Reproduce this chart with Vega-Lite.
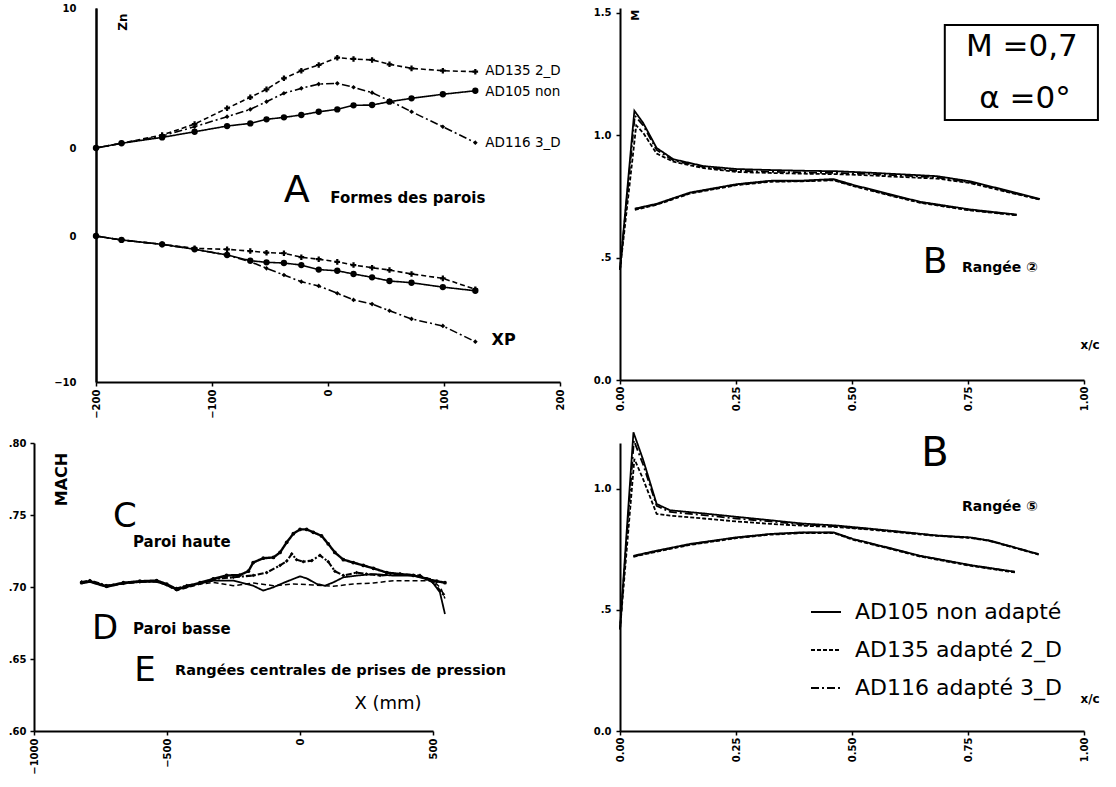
{
  "$schema": "https://vega.github.io/schema/vega-lite/v6.json",
  "background": "white",
  "padding": {"left": 8, "top": 3, "right": 0, "bottom": 0},
  "datasets": {
    "tl": [
      {"wall":"haute","profil":"AD105","x":-200,"z":0},{"wall":"haute","profil":"AD105","x":-178,"z":0.34},{"wall":"haute","profil":"AD105","x":-143,"z":0.76},{"wall":"haute","profil":"AD105","x":-115,"z":1.16},{"wall":"haute","profil":"AD105","x":-87,"z":1.57},{"wall":"haute","profil":"AD105","x":-67,"z":1.76},{"wall":"haute","profil":"AD105","x":-53,"z":2.05},{"wall":"haute","profil":"AD105","x":-38,"z":2.19},{"wall":"haute","profil":"AD105","x":-23,"z":2.36},{"wall":"haute","profil":"AD105","x":-8,"z":2.59},{"wall":"haute","profil":"AD105","x":8,"z":2.76},{"wall":"haute","profil":"AD105","x":22,"z":3.05},{"wall":"haute","profil":"AD105","x":38,"z":3.07},{"wall":"haute","profil":"AD105","x":53,"z":3.31},{"wall":"haute","profil":"AD105","x":72,"z":3.55},{"wall":"haute","profil":"AD105","x":99,"z":3.84},{"wall":"haute","profil":"AD105","x":127,"z":4.09},
      {"wall":"haute","profil":"AD135","x":-200,"z":0},{"wall":"haute","profil":"AD135","x":-178,"z":0.34},{"wall":"haute","profil":"AD135","x":-143,"z":0.93},{"wall":"haute","profil":"AD135","x":-115,"z":1.71},{"wall":"haute","profil":"AD135","x":-87,"z":2.84},{"wall":"haute","profil":"AD135","x":-67,"z":3.62},{"wall":"haute","profil":"AD135","x":-53,"z":4.19},{"wall":"haute","profil":"AD135","x":-38,"z":4.98},{"wall":"haute","profil":"AD135","x":-23,"z":5.52},{"wall":"haute","profil":"AD135","x":-8,"z":5.93},{"wall":"haute","profil":"AD135","x":8,"z":6.45},{"wall":"haute","profil":"AD135","x":22,"z":6.36},{"wall":"haute","profil":"AD135","x":38,"z":6.29},{"wall":"haute","profil":"AD135","x":53,"z":5.98},{"wall":"haute","profil":"AD135","x":72,"z":5.69},{"wall":"haute","profil":"AD135","x":99,"z":5.52},{"wall":"haute","profil":"AD135","x":127,"z":5.45},
      {"wall":"haute","profil":"AD116","x":-200,"z":0},{"wall":"haute","profil":"AD116","x":-178,"z":0.34},{"wall":"haute","profil":"AD116","x":-143,"z":0.86},{"wall":"haute","profil":"AD116","x":-115,"z":1.52},{"wall":"haute","profil":"AD116","x":-87,"z":2.24},{"wall":"haute","profil":"AD116","x":-67,"z":2.76},{"wall":"haute","profil":"AD116","x":-53,"z":3.31},{"wall":"haute","profil":"AD116","x":-38,"z":3.91},{"wall":"haute","profil":"AD116","x":-23,"z":4.26},{"wall":"haute","profil":"AD116","x":-8,"z":4.57},{"wall":"haute","profil":"AD116","x":8,"z":4.62},{"wall":"haute","profil":"AD116","x":22,"z":4.34},{"wall":"haute","profil":"AD116","x":38,"z":3.95},{"wall":"haute","profil":"AD116","x":53,"z":3.38},{"wall":"haute","profil":"AD116","x":72,"z":2.59},{"wall":"haute","profil":"AD116","x":99,"z":1.52},{"wall":"haute","profil":"AD116","x":127,"z":0.38},
      {"wall":"basse","profil":"AD105","x":-200,"z":0},{"wall":"basse","profil":"AD105","x":-178,"z":-0.27},{"wall":"basse","profil":"AD105","x":-143,"z":-0.57},{"wall":"basse","profil":"AD105","x":-115,"z":-0.91},{"wall":"basse","profil":"AD105","x":-87,"z":-1.3},{"wall":"basse","profil":"AD105","x":-67,"z":-1.69},{"wall":"basse","profil":"AD105","x":-53,"z":-1.8},{"wall":"basse","profil":"AD105","x":-38,"z":-1.85},{"wall":"basse","profil":"AD105","x":-23,"z":-1.99},{"wall":"basse","profil":"AD105","x":-8,"z":-2.3},{"wall":"basse","profil":"AD105","x":8,"z":-2.38},{"wall":"basse","profil":"AD105","x":22,"z":-2.6},{"wall":"basse","profil":"AD105","x":38,"z":-2.83},{"wall":"basse","profil":"AD105","x":53,"z":-3.08},{"wall":"basse","profil":"AD105","x":72,"z":-3.2},{"wall":"basse","profil":"AD105","x":99,"z":-3.5},{"wall":"basse","profil":"AD105","x":127,"z":-3.75},
      {"wall":"basse","profil":"AD135","x":-200,"z":0},{"wall":"basse","profil":"AD135","x":-178,"z":-0.27},{"wall":"basse","profil":"AD135","x":-143,"z":-0.57},{"wall":"basse","profil":"AD135","x":-115,"z":-0.84},{"wall":"basse","profil":"AD135","x":-87,"z":-0.91},{"wall":"basse","profil":"AD135","x":-67,"z":-1.03},{"wall":"basse","profil":"AD135","x":-53,"z":-1.14},{"wall":"basse","profil":"AD135","x":-38,"z":-1.18},{"wall":"basse","profil":"AD135","x":-23,"z":-1.45},{"wall":"basse","profil":"AD135","x":-8,"z":-1.59},{"wall":"basse","profil":"AD135","x":8,"z":-1.77},{"wall":"basse","profil":"AD135","x":22,"z":-1.99},{"wall":"basse","profil":"AD135","x":38,"z":-2.17},{"wall":"basse","profil":"AD135","x":53,"z":-2.33},{"wall":"basse","profil":"AD135","x":72,"z":-2.6},{"wall":"basse","profil":"AD135","x":99,"z":-2.9},{"wall":"basse","profil":"AD135","x":127,"z":-3.65},
      {"wall":"basse","profil":"AD116","x":-200,"z":0},{"wall":"basse","profil":"AD116","x":-178,"z":-0.27},{"wall":"basse","profil":"AD116","x":-143,"z":-0.57},{"wall":"basse","profil":"AD116","x":-115,"z":-0.91},{"wall":"basse","profil":"AD116","x":-87,"z":-1.3},{"wall":"basse","profil":"AD116","x":-67,"z":-1.76},{"wall":"basse","profil":"AD116","x":-53,"z":-2.21},{"wall":"basse","profil":"AD116","x":-38,"z":-2.67},{"wall":"basse","profil":"AD116","x":-23,"z":-3.13},{"wall":"basse","profil":"AD116","x":-8,"z":-3.42},{"wall":"basse","profil":"AD116","x":8,"z":-3.92},{"wall":"basse","profil":"AD116","x":22,"z":-4.38},{"wall":"basse","profil":"AD116","x":38,"z":-4.66},{"wall":"basse","profil":"AD116","x":53,"z":-5.12},{"wall":"basse","profil":"AD116","x":72,"z":-5.68},{"wall":"basse","profil":"AD116","x":99,"z":-6.16},{"wall":"basse","profil":"AD116","x":127,"z":-7.24}
    ],
    "mach": [
      {"c":"c1","x":-821,"m":0.703},{"c":"c1","x":-790,"m":0.704},{"c":"c1","x":-727,"m":0.7005},{"c":"c1","x":-664,"m":0.703},{"c":"c1","x":-602,"m":0.704},{"c":"c1","x":-539,"m":0.7045},{"c":"c1","x":-501,"m":0.702},{"c":"c1","x":-464,"m":0.6985},{"c":"c1","x":-426,"m":0.7005},{"c":"c1","x":-376,"m":0.703},
      {"c":"c1","x":-326,"m":0.7056},{"c":"c1","x":-276,"m":0.708},{"c":"c1","x":-226,"m":0.7083},{"c":"c1","x":-194,"m":0.711},{"c":"c1","x":-176,"m":0.717},{"c":"c1","x":-138,"m":0.72},{"c":"c1","x":-100,"m":0.7205},{"c":"c1","x":-75,"m":0.724},{"c":"c1","x":-50,"m":0.731},{"c":"c1","x":-25,"m":0.737},{"c":"c1","x":0,"m":0.74},{"c":"c1","x":25,"m":0.74},{"c":"c1","x":50,"m":0.738},{"c":"c1","x":81,"m":0.7355},{"c":"c1","x":106,"m":0.73},{"c":"c1","x":131,"m":0.724},{"c":"c1","x":163,"m":0.719},{"c":"c1","x":200,"m":0.717},{"c":"c1","x":238,"m":0.715},{"c":"c1","x":276,"m":0.713},{"c":"c1","x":326,"m":0.71},{"c":"c1","x":376,"m":0.709},{"c":"c1","x":426,"m":0.708},{"c":"c1","x":476,"m":0.7056},{"c":"c1","x":514,"m":0.704},{"c":"c1","x":545,"m":0.703},
      {"c":"c2","x":-821,"m":0.7035},{"c":"c2","x":-790,"m":0.7045},{"c":"c2","x":-727,"m":0.701},{"c":"c2","x":-664,"m":0.7025},{"c":"c2","x":-602,"m":0.7035},{"c":"c2","x":-539,"m":0.704},{"c":"c2","x":-501,"m":0.7015},{"c":"c2","x":-464,"m":0.699},{"c":"c2","x":-426,"m":0.701},{"c":"c2","x":-376,"m":0.7025},
      {"c":"c2","x":-326,"m":0.7056},{"c":"c2","x":-251,"m":0.7067},{"c":"c2","x":-176,"m":0.708},{"c":"c2","x":-125,"m":0.71},{"c":"c2","x":-75,"m":0.715},{"c":"c2","x":-50,"m":0.718},{"c":"c2","x":-31,"m":0.723},{"c":"c2","x":-13,"m":0.719},{"c":"c2","x":12,"m":0.7176},{"c":"c2","x":44,"m":0.7183},{"c":"c2","x":75,"m":0.722},{"c":"c2","x":106,"m":0.7176},{"c":"c2","x":131,"m":0.711},{"c":"c2","x":163,"m":0.708},{"c":"c2","x":213,"m":0.71},{"c":"c2","x":250,"m":0.709},{"c":"c2","x":301,"m":0.708},{"c":"c2","x":376,"m":0.709},{"c":"c2","x":451,"m":0.708},{"c":"c2","x":501,"m":0.703},{"c":"c2","x":539,"m":0.695},
      {"c":"c3","x":-821,"m":0.7025},{"c":"c3","x":-790,"m":0.7035},{"c":"c3","x":-727,"m":0.7},{"c":"c3","x":-664,"m":0.7025},{"c":"c3","x":-602,"m":0.7035},{"c":"c3","x":-539,"m":0.7035},{"c":"c3","x":-501,"m":0.7015},{"c":"c3","x":-464,"m":0.698},{"c":"c3","x":-426,"m":0.7},{"c":"c3","x":-376,"m":0.7025},
      {"c":"c3","x":-326,"m":0.7044},{"c":"c3","x":-251,"m":0.7044},{"c":"c3","x":-176,"m":0.7009},{"c":"c3","x":-138,"m":0.6975},{"c":"c3","x":-100,"m":0.6998},{"c":"c3","x":-63,"m":0.7028},{"c":"c3","x":-25,"m":0.7056},{"c":"c3","x":0,"m":0.7074},{"c":"c3","x":25,"m":0.706},{"c":"c3","x":63,"m":0.7021},{"c":"c3","x":94,"m":0.7009},{"c":"c3","x":125,"m":0.7032},{"c":"c3","x":163,"m":0.7067},{"c":"c3","x":213,"m":0.7079},{"c":"c3","x":276,"m":0.709},{"c":"c3","x":351,"m":0.7079},{"c":"c3","x":426,"m":0.7079},{"c":"c3","x":489,"m":0.7056},{"c":"c3","x":526,"m":0.6963},{"c":"c3","x":545,"m":0.6812},
      {"c":"c4","x":-821,"m":0.7028},{"c":"c4","x":-790,"m":0.7038},{"c":"c4","x":-727,"m":0.7008},{"c":"c4","x":-664,"m":0.7022},{"c":"c4","x":-602,"m":0.704},{"c":"c4","x":-539,"m":0.7038},{"c":"c4","x":-501,"m":0.7012},{"c":"c4","x":-464,"m":0.6975},{"c":"c4","x":-426,"m":0.6995},{"c":"c4","x":-376,"m":0.702},
      {"c":"c4","x":-326,"m":0.7032},{"c":"c4","x":-251,"m":0.7009},{"c":"c4","x":-176,"m":0.7028},{"c":"c4","x":-100,"m":0.7009},{"c":"c4","x":-25,"m":0.7021},{"c":"c4","x":50,"m":0.7014},{"c":"c4","x":125,"m":0.7005},{"c":"c4","x":200,"m":0.7021},{"c":"c4","x":276,"m":0.7028},{"c":"c4","x":351,"m":0.7044},{"c":"c4","x":426,"m":0.7044},{"c":"c4","x":501,"m":0.7044},{"c":"c4","x":530,"m":0.699},{"c":"c4","x":545,"m":0.692}
    ],
    "r2": [
      {"p":"AD105 non adapté","s":"ext","xc":0,"m":0.45},{"p":"AD105 non adapté","s":"ext","xc":0.031,"m":1.1},{"p":"AD105 non adapté","s":"ext","xc":0.05,"m":1.05},{"p":"AD105 non adapté","s":"ext","xc":0.079,"m":0.948},{"p":"AD105 non adapté","s":"ext","xc":0.115,"m":0.902},{"p":"AD105 non adapté","s":"ext","xc":0.18,"m":0.874},{"p":"AD105 non adapté","s":"ext","xc":0.251,"m":0.862},{"p":"AD105 non adapté","s":"ext","xc":0.323,"m":0.858},{"p":"AD105 non adapté","s":"ext","xc":0.395,"m":0.855},{"p":"AD105 non adapté","s":"ext","xc":0.467,"m":0.853},{"p":"AD105 non adapté","s":"ext","xc":0.539,"m":0.847},{"p":"AD105 non adapté","s":"ext","xc":0.611,"m":0.84},{"p":"AD105 non adapté","s":"ext","xc":0.683,"m":0.833},{"p":"AD105 non adapté","s":"ext","xc":0.754,"m":0.812},{"p":"AD105 non adapté","s":"ext","xc":0.826,"m":0.778},{"p":"AD105 non adapté","s":"ext","xc":0.905,"m":0.74},
      {"p":"AD135 adapté 2_D","s":"ext","xc":0,"m":0.45},{"p":"AD135 adapté 2_D","s":"ext","xc":0.035,"m":1.04},{"p":"AD135 adapté 2_D","s":"ext","xc":0.05,"m":1.01},{"p":"AD135 adapté 2_D","s":"ext","xc":0.079,"m":0.925},{"p":"AD135 adapté 2_D","s":"ext","xc":0.115,"m":0.892},{"p":"AD135 adapté 2_D","s":"ext","xc":0.18,"m":0.866},{"p":"AD135 adapté 2_D","s":"ext","xc":0.251,"m":0.85},{"p":"AD135 adapté 2_D","s":"ext","xc":0.323,"m":0.846},{"p":"AD135 adapté 2_D","s":"ext","xc":0.395,"m":0.843},{"p":"AD135 adapté 2_D","s":"ext","xc":0.467,"m":0.841},{"p":"AD135 adapté 2_D","s":"ext","xc":0.539,"m":0.836},{"p":"AD135 adapté 2_D","s":"ext","xc":0.611,"m":0.829},{"p":"AD135 adapté 2_D","s":"ext","xc":0.683,"m":0.823},{"p":"AD135 adapté 2_D","s":"ext","xc":0.754,"m":0.805},{"p":"AD135 adapté 2_D","s":"ext","xc":0.826,"m":0.772},{"p":"AD135 adapté 2_D","s":"ext","xc":0.905,"m":0.737},
      {"p":"AD116 adapté 3_D","s":"ext","xc":0,"m":0.45},{"p":"AD116 adapté 3_D","s":"ext","xc":0.032,"m":1.08},{"p":"AD116 adapté 3_D","s":"ext","xc":0.05,"m":1.04},{"p":"AD116 adapté 3_D","s":"ext","xc":0.079,"m":0.94},{"p":"AD116 adapté 3_D","s":"ext","xc":0.115,"m":0.897},{"p":"AD116 adapté 3_D","s":"ext","xc":0.18,"m":0.87},{"p":"AD116 adapté 3_D","s":"ext","xc":0.251,"m":0.855},{"p":"AD116 adapté 3_D","s":"ext","xc":0.323,"m":0.851},{"p":"AD116 adapté 3_D","s":"ext","xc":0.395,"m":0.848},{"p":"AD116 adapté 3_D","s":"ext","xc":0.467,"m":0.846},{"p":"AD116 adapté 3_D","s":"ext","xc":0.539,"m":0.842},{"p":"AD116 adapté 3_D","s":"ext","xc":0.611,"m":0.835},{"p":"AD116 adapté 3_D","s":"ext","xc":0.683,"m":0.828},{"p":"AD116 adapté 3_D","s":"ext","xc":0.754,"m":0.808},{"p":"AD116 adapté 3_D","s":"ext","xc":0.826,"m":0.775},{"p":"AD116 adapté 3_D","s":"ext","xc":0.905,"m":0.738},
      {"p":"AD105 non adapté","s":"int","xc":0.032,"m":0.7},{"p":"AD105 non adapté","s":"int","xc":0.079,"m":0.72},{"p":"AD105 non adapté","s":"int","xc":0.151,"m":0.766},{"p":"AD105 non adapté","s":"int","xc":0.251,"m":0.8},{"p":"AD105 non adapté","s":"int","xc":0.323,"m":0.814},{"p":"AD105 non adapté","s":"int","xc":0.395,"m":0.815},{"p":"AD105 non adapté","s":"int","xc":0.46,"m":0.821},{"p":"AD105 non adapté","s":"int","xc":0.503,"m":0.797},{"p":"AD105 non adapté","s":"int","xc":0.575,"m":0.762},{"p":"AD105 non adapté","s":"int","xc":0.647,"m":0.728},{"p":"AD105 non adapté","s":"int","xc":0.754,"m":0.697},{"p":"AD105 non adapté","s":"int","xc":0.855,"m":0.676},
      {"p":"AD135 adapté 2_D","s":"int","xc":0.032,"m":0.695},{"p":"AD135 adapté 2_D","s":"int","xc":0.079,"m":0.716},{"p":"AD135 adapté 2_D","s":"int","xc":0.151,"m":0.762},{"p":"AD135 adapté 2_D","s":"int","xc":0.251,"m":0.796},{"p":"AD135 adapté 2_D","s":"int","xc":0.323,"m":0.81},{"p":"AD135 adapté 2_D","s":"int","xc":0.395,"m":0.812},{"p":"AD135 adapté 2_D","s":"int","xc":0.46,"m":0.816},{"p":"AD135 adapté 2_D","s":"int","xc":0.503,"m":0.792},{"p":"AD135 adapté 2_D","s":"int","xc":0.575,"m":0.757},{"p":"AD135 adapté 2_D","s":"int","xc":0.647,"m":0.724},{"p":"AD135 adapté 2_D","s":"int","xc":0.754,"m":0.693},{"p":"AD135 adapté 2_D","s":"int","xc":0.855,"m":0.673},
      {"p":"AD116 adapté 3_D","s":"int","xc":0.032,"m":0.698},{"p":"AD116 adapté 3_D","s":"int","xc":0.079,"m":0.718},{"p":"AD116 adapté 3_D","s":"int","xc":0.151,"m":0.764},{"p":"AD116 adapté 3_D","s":"int","xc":0.251,"m":0.798},{"p":"AD116 adapté 3_D","s":"int","xc":0.323,"m":0.812},{"p":"AD116 adapté 3_D","s":"int","xc":0.395,"m":0.813},{"p":"AD116 adapté 3_D","s":"int","xc":0.46,"m":0.818},{"p":"AD116 adapté 3_D","s":"int","xc":0.503,"m":0.794},{"p":"AD116 adapté 3_D","s":"int","xc":0.575,"m":0.759},{"p":"AD116 adapté 3_D","s":"int","xc":0.647,"m":0.726},{"p":"AD116 adapté 3_D","s":"int","xc":0.754,"m":0.695},{"p":"AD116 adapté 3_D","s":"int","xc":0.855,"m":0.674}
    ],
    "r5": [
      {"p":"AD105 non adapté","s":"ext","xc":0,"m":0.42},{"p":"AD105 non adapté","s":"ext","xc":0.029,"m":1.234},{"p":"AD105 non adapté","s":"ext","xc":0.05,"m":1.12},{"p":"AD105 non adapté","s":"ext","xc":0.079,"m":0.938},{"p":"AD105 non adapté","s":"ext","xc":0.108,"m":0.912},{"p":"AD105 non adapté","s":"ext","xc":0.18,"m":0.899},{"p":"AD105 non adapté","s":"ext","xc":0.251,"m":0.885},{"p":"AD105 non adapté","s":"ext","xc":0.323,"m":0.871},{"p":"AD105 non adapté","s":"ext","xc":0.395,"m":0.857},{"p":"AD105 non adapté","s":"ext","xc":0.467,"m":0.849},{"p":"AD105 non adapté","s":"ext","xc":0.539,"m":0.836},{"p":"AD105 non adapté","s":"ext","xc":0.611,"m":0.822},{"p":"AD105 non adapté","s":"ext","xc":0.683,"m":0.808},{"p":"AD105 non adapté","s":"ext","xc":0.754,"m":0.8},{"p":"AD105 non adapté","s":"ext","xc":0.797,"m":0.787},{"p":"AD105 non adapté","s":"ext","xc":0.848,"m":0.76},{"p":"AD105 non adapté","s":"ext","xc":0.902,"m":0.731},
      {"p":"AD135 adapté 2_D","s":"ext","xc":0,"m":0.42},{"p":"AD135 adapté 2_D","s":"ext","xc":0.031,"m":1.124},{"p":"AD135 adapté 2_D","s":"ext","xc":0.05,"m":1.04},{"p":"AD135 adapté 2_D","s":"ext","xc":0.079,"m":0.897},{"p":"AD135 adapté 2_D","s":"ext","xc":0.108,"m":0.89},{"p":"AD135 adapté 2_D","s":"ext","xc":0.18,"m":0.878},{"p":"AD135 adapté 2_D","s":"ext","xc":0.251,"m":0.866},{"p":"AD135 adapté 2_D","s":"ext","xc":0.323,"m":0.856},{"p":"AD135 adapté 2_D","s":"ext","xc":0.395,"m":0.848},{"p":"AD135 adapté 2_D","s":"ext","xc":0.467,"m":0.843},{"p":"AD135 adapté 2_D","s":"ext","xc":0.539,"m":0.832},{"p":"AD135 adapté 2_D","s":"ext","xc":0.611,"m":0.819},{"p":"AD135 adapté 2_D","s":"ext","xc":0.683,"m":0.806},{"p":"AD135 adapté 2_D","s":"ext","xc":0.754,"m":0.798},{"p":"AD135 adapté 2_D","s":"ext","xc":0.797,"m":0.785},{"p":"AD135 adapté 2_D","s":"ext","xc":0.848,"m":0.758},{"p":"AD135 adapté 2_D","s":"ext","xc":0.902,"m":0.729},
      {"p":"AD116 adapté 3_D","s":"ext","xc":0,"m":0.42},{"p":"AD116 adapté 3_D","s":"ext","xc":0.03,"m":1.2},{"p":"AD116 adapté 3_D","s":"ext","xc":0.05,"m":1.1},{"p":"AD116 adapté 3_D","s":"ext","xc":0.079,"m":0.93},{"p":"AD116 adapté 3_D","s":"ext","xc":0.108,"m":0.905},{"p":"AD116 adapté 3_D","s":"ext","xc":0.18,"m":0.892},{"p":"AD116 adapté 3_D","s":"ext","xc":0.251,"m":0.878},{"p":"AD116 adapté 3_D","s":"ext","xc":0.323,"m":0.866},{"p":"AD116 adapté 3_D","s":"ext","xc":0.395,"m":0.853},{"p":"AD116 adapté 3_D","s":"ext","xc":0.467,"m":0.846},{"p":"AD116 adapté 3_D","s":"ext","xc":0.539,"m":0.834},{"p":"AD116 adapté 3_D","s":"ext","xc":0.611,"m":0.821},{"p":"AD116 adapté 3_D","s":"ext","xc":0.683,"m":0.807},{"p":"AD116 adapté 3_D","s":"ext","xc":0.754,"m":0.799},{"p":"AD116 adapté 3_D","s":"ext","xc":0.797,"m":0.786},{"p":"AD116 adapté 3_D","s":"ext","xc":0.848,"m":0.759},{"p":"AD116 adapté 3_D","s":"ext","xc":0.902,"m":0.73},
      {"p":"AD105 non adapté","s":"int","xc":0.029,"m":0.724},{"p":"AD105 non adapté","s":"int","xc":0.079,"m":0.745},{"p":"AD105 non adapté","s":"int","xc":0.151,"m":0.773},{"p":"AD105 non adapté","s":"int","xc":0.251,"m":0.8},{"p":"AD105 non adapté","s":"int","xc":0.323,"m":0.814},{"p":"AD105 non adapté","s":"int","xc":0.395,"m":0.821},{"p":"AD105 non adapté","s":"int","xc":0.46,"m":0.821},{"p":"AD105 non adapté","s":"int","xc":0.503,"m":0.793},{"p":"AD105 non adapté","s":"int","xc":0.575,"m":0.759},{"p":"AD105 non adapté","s":"int","xc":0.647,"m":0.724},{"p":"AD105 non adapté","s":"int","xc":0.754,"m":0.686},{"p":"AD105 non adapté","s":"int","xc":0.851,"m":0.658},
      {"p":"AD135 adapté 2_D","s":"int","xc":0.029,"m":0.72},{"p":"AD135 adapté 2_D","s":"int","xc":0.079,"m":0.741},{"p":"AD135 adapté 2_D","s":"int","xc":0.151,"m":0.769},{"p":"AD135 adapté 2_D","s":"int","xc":0.251,"m":0.797},{"p":"AD135 adapté 2_D","s":"int","xc":0.323,"m":0.811},{"p":"AD135 adapté 2_D","s":"int","xc":0.395,"m":0.818},{"p":"AD135 adapté 2_D","s":"int","xc":0.46,"m":0.818},{"p":"AD135 adapté 2_D","s":"int","xc":0.503,"m":0.79},{"p":"AD135 adapté 2_D","s":"int","xc":0.575,"m":0.756},{"p":"AD135 adapté 2_D","s":"int","xc":0.647,"m":0.721},{"p":"AD135 adapté 2_D","s":"int","xc":0.754,"m":0.683},{"p":"AD135 adapté 2_D","s":"int","xc":0.851,"m":0.655},
      {"p":"AD116 adapté 3_D","s":"int","xc":0.029,"m":0.722},{"p":"AD116 adapté 3_D","s":"int","xc":0.079,"m":0.743},{"p":"AD116 adapté 3_D","s":"int","xc":0.151,"m":0.771},{"p":"AD116 adapté 3_D","s":"int","xc":0.251,"m":0.799},{"p":"AD116 adapté 3_D","s":"int","xc":0.323,"m":0.813},{"p":"AD116 adapté 3_D","s":"int","xc":0.395,"m":0.82},{"p":"AD116 adapté 3_D","s":"int","xc":0.46,"m":0.82},{"p":"AD116 adapté 3_D","s":"int","xc":0.503,"m":0.792},{"p":"AD116 adapté 3_D","s":"int","xc":0.575,"m":0.758},{"p":"AD116 adapté 3_D","s":"int","xc":0.647,"m":0.723},{"p":"AD116 adapté 3_D","s":"int","xc":0.754,"m":0.685},{"p":"AD116 adapté 3_D","s":"int","xc":0.851,"m":0.657}
    ]
  },
  "vconcat": [
    {
      "hconcat": [
        {"width": 2, "height": 20, "data": {"values": [{"t": ""}]}, "mark": {"type": "text"}, "encoding": {"text": {"field": "t"}}},
        {
          "width": 464, "height": 374,
          "layer": [
            {
              "encoding": {
                "x": {"field": "x", "type": "quantitative", "scale": {"domain": [-200, 200], "nice": false, "zero": false}, "axis": {"values": [-200, -100, 0, 100, 200], "format": "d", "labelAngle": 270, "title": null, "tickSize": 4, "labelPadding": 3}},
                "y": {"field": "z", "type": "quantitative", "scale": {"domain": [-16.71, 10], "nice": false, "zero": false}, "axis": {"orient": "left", "values": [0, 10], "format": "d", "ticks": false, "labelPadding": 20, "title": null}}
              },
              "layer": [
                {"data": {"name": "tl"}, "transform": [{"filter": "datum.wall === 'haute'"}], "mark": {"type": "line", "color": "black", "strokeWidth": 1.6},
                 "encoding": {"strokeDash": {"field": "profil", "type": "nominal", "scale": {"domain": ["AD105", "AD135", "AD116"], "range": [[1, 0], [5, 3], [8, 3, 2, 3]]}, "legend": null}}},
                {"data": {"name": "tl"}, "transform": [{"filter": "datum.wall === 'haute'"}], "mark": {"type": "point", "filled": true, "color": "black", "opacity": 1},
                 "encoding": {"shape": {"field": "profil", "type": "nominal", "scale": {"domain": ["AD105", "AD135", "AD116"], "range": ["circle", "cross", "diamond"]}, "legend": null},
                              "size": {"field": "profil", "type": "nominal", "scale": {"domain": ["AD105", "AD135", "AD116"], "range": [40, 22, 18]}, "legend": null}}},
                {"data": {"values": [{"x": 133, "z": 5.5, "label": "AD135 2_D"}, {"x": 133, "z": 4.0, "label": "AD105 non"}, {"x": 133, "z": 0.36, "label": "AD116 3_D"}]},
                 "mark": {"type": "text", "align": "left", "baseline": "middle", "fontSize": 13.5, "dx": 3}, "encoding": {"text": {"field": "label"}}},
                {"data": {"values": [{"x": -27, "z": -3.1, "label": "A"}]}, "mark": {"type": "text", "fontSize": 38, "baseline": "middle"}, "encoding": {"text": {"field": "label"}}},
                {"data": {"values": [{"x": 2, "z": -3.57, "label": "Formes des parois"}]}, "mark": {"type": "text", "align": "left", "baseline": "middle", "fontSize": 15, "fontWeight": "bold"}, "encoding": {"text": {"field": "label"}}},
                {"data": {"values": [{"x": -177, "z": 9.0, "label": "Zn"}]}, "mark": {"type": "text", "angle": 270, "baseline": "middle", "fontSize": 12, "fontWeight": "bold"}, "encoding": {"text": {"field": "label"}}}
              ]
            },
            {
              "encoding": {
                "x": {"field": "x", "type": "quantitative", "scale": {"domain": [-200, 200], "nice": false, "zero": false}, "axis": {"values": [-200, -100, 0, 100, 200], "format": "d", "labelAngle": 270, "title": null, "tickSize": 4, "labelPadding": 3}},
                "y": {"field": "z", "type": "quantitative", "scale": {"domain": [-10, 15.62], "nice": false, "zero": false}, "axis": {"orient": "left", "values": [-10, 0], "format": "d", "ticks": false, "labelPadding": 20, "title": null}}
              },
              "layer": [
                {"data": {"name": "tl"}, "transform": [{"filter": "datum.wall === 'basse'"}], "mark": {"type": "line", "color": "black", "strokeWidth": 1.6},
                 "encoding": {"strokeDash": {"field": "profil", "type": "nominal", "scale": {"domain": ["AD105", "AD135", "AD116"], "range": [[1, 0], [5, 3], [8, 3, 2, 3]]}, "legend": null}}},
                {"data": {"name": "tl"}, "transform": [{"filter": "datum.wall === 'basse'"}], "mark": {"type": "point", "filled": true, "color": "black", "opacity": 1},
                 "encoding": {"shape": {"field": "profil", "type": "nominal", "scale": {"domain": ["AD105", "AD135", "AD116"], "range": ["circle", "cross", "diamond"]}, "legend": null},
                              "size": {"field": "profil", "type": "nominal", "scale": {"domain": ["AD105", "AD135", "AD116"], "range": [40, 22, 18]}, "legend": null}}},
                {"data": {"values": [{"x": 141, "z": -7.12, "label": "XP"}]}, "mark": {"type": "text", "align": "left", "baseline": "middle", "fontSize": 16, "fontWeight": "bold"}, "encoding": {"text": {"field": "label"}}}
              ]
            }
          ],
          "resolve": {"scale": {"y": "independent"}, "axis": {"y": "independent"}}
        },
        {
          "width": 464, "height": 372,
          "encoding": {
            "x": {"field": "xc", "type": "quantitative", "scale": {"domain": [0, 1], "nice": false}, "axis": {"values": [0, 0.25, 0.5, 0.75, 1], "format": ".2f", "labelAngle": 270, "title": null, "tickSize": 4, "labelPadding": 2}},
            "y": {"field": "m", "type": "quantitative", "scale": {"domain": [0, 1.52], "nice": false}, "axis": {"values": [0, 0.5, 1, 1.5], "labelExpr": "datum.value == 0.5 ? '.5' : format(datum.value, '.1f')", "title": null, "tickSize": 4, "labelPadding": 5}}
          },
          "layer": [
            {"data": {"name": "r2"}, "mark": {"type": "line", "color": "black", "strokeWidth": 1.8},
             "encoding": {"detail": {"field": "s"}, "strokeDash": {"field": "p", "type": "nominal", "scale": {"domain": ["AD105 non adapté", "AD135 adapté 2_D", "AD116 adapté 3_D"], "range": [[1, 0], [4, 2], [8, 3, 2, 3]]}, "legend": null}}},
            {"data": {"values": [{"xc": 0.70, "xc2": 1.03, "m": 1.451, "m2": 1.0625}]}, "mark": {"type": "rect", "fillOpacity": 0, "stroke": "black", "strokeWidth": 2},
             "encoding": {"x2": {"field": "xc2"}, "y2": {"field": "m2"}}},
            {"data": {"values": [{"xc": 0.866, "m": 1.36, "label": "M =0,7"}, {"xc": 0.873, "m": 1.15, "label": "α =0°"}]}, "mark": {"type": "text", "fontSize": 31, "baseline": "middle"}, "encoding": {"text": {"field": "label"}}},
            {"data": {"values": [{"xc": 0.679, "m": 0.482, "label": "B"}]}, "mark": {"type": "text", "fontSize": 36, "baseline": "middle"}, "encoding": {"text": {"field": "label"}}},
            {"data": {"values": [{"xc": 0.737, "m": 0.458, "label": "Rangée ②"}]}, "mark": {"type": "text", "align": "left", "baseline": "middle", "fontSize": 14, "fontWeight": "bold"}, "encoding": {"text": {"field": "label"}}},
            {"data": {"values": [{"xc": 1.013, "m": 0.143, "label": "x/c"}]}, "mark": {"type": "text", "baseline": "middle", "fontSize": 12, "fontWeight": "bold"}, "encoding": {"text": {"field": "label"}}},
            {"data": {"values": [{"xc": 0.034, "m": 1.49, "label": "M"}]}, "mark": {"type": "text", "angle": 270, "baseline": "middle", "fontSize": 11, "fontWeight": "bold"}, "encoding": {"text": {"field": "label"}}}
          ]
        }
      ],
      "spacing": 60,
      "bounds": "flush",
      "resolve": {"scale": {"strokeDash": "independent", "shape": "independent", "size": "independent", "strokeWidth": "independent"}, "legend": {"strokeDash": "independent", "shape": "independent", "size": "independent", "strokeWidth": "independent"}}
    },
    {
      "hconcat": [
        {
          "width": 399, "height": 288,
          "encoding": {
            "x": {"field": "x", "type": "quantitative", "scale": {"domain": [-1000, 500], "nice": false, "zero": false}, "axis": {"values": [-1000, -500, 0, 500], "format": "d", "labelAngle": 270, "title": null, "tickSize": 4, "labelPadding": 3}},
            "y": {"field": "m", "type": "quantitative", "scale": {"domain": [0.6, 0.8], "nice": false, "zero": false}, "axis": {"values": [0.6, 0.65, 0.7, 0.75, 0.8], "labelExpr": "replace(format(datum.value, '.2f'), '0.', '.')", "tickSize": 4, "labelPadding": 4, "title": "MACH", "titleAngle": 270, "titleX": 27, "titleY": 36, "titleAlign": "center", "titleBaseline": "middle", "titleFontSize": 16, "titleFontWeight": "bold", "titleFont": "DejaVu Sans"}}
          },
          "layer": [
            {"data": {"name": "mach"}, "mark": {"type": "line", "color": "black"},
             "encoding": {"strokeDash": {"field": "c", "type": "nominal", "scale": {"domain": ["c1", "c2", "c3", "c4"], "range": [[1, 0], [6, 2, 2, 2], [1, 0], [5, 3]]}, "legend": null},
                          "strokeWidth": {"field": "c", "type": "nominal", "scale": {"domain": ["c1", "c2", "c3", "c4"], "range": [2.4, 1.5, 1, 1.2]}, "legend": null}}},
            {"data": {"name": "mach"}, "transform": [{"filter": "datum.c === 'c1' || datum.c === 'c2'"}], "mark": {"type": "point", "filled": true, "color": "black", "opacity": 1},
             "encoding": {"shape": {"field": "c", "type": "nominal", "scale": {"domain": ["c1", "c2"], "range": ["circle", "diamond"]}, "legend": null}, "size": {"value": 14}}},
            {"data": {"values": [{"x": -658, "m": 0.7486, "label": "C"}, {"x": -733, "m": 0.671, "label": "D"}, {"x": -583, "m": 0.6417, "label": "E"}]}, "mark": {"type": "text", "fontSize": 34, "baseline": "middle"}, "encoding": {"text": {"field": "label"}}},
            {"data": {"values": [{"x": -628, "m": 0.7313, "label": "Paroi haute"}, {"x": -628, "m": 0.6708, "label": "Paroi basse"}]}, "mark": {"type": "text", "align": "left", "baseline": "middle", "fontSize": 15, "fontWeight": "bold"}, "encoding": {"text": {"field": "label"}}},
            {"data": {"values": [{"x": -470, "m": 0.6417, "label": "Rangées centrales de prises de pression"}]}, "mark": {"type": "text", "align": "left", "baseline": "middle", "fontSize": 14.5, "fontWeight": "bold"}, "encoding": {"text": {"field": "label"}}},
            {"data": {"values": [{"x": 331, "m": 0.6188, "label": "X (mm)"}]}, "mark": {"type": "text", "baseline": "middle", "fontSize": 18}, "encoding": {"text": {"field": "label"}}}
          ]
        },
        {
          "width": 464, "height": 288,
          "encoding": {
            "x": {"field": "xc", "type": "quantitative", "scale": {"domain": [0, 1], "nice": false}, "axis": {"values": [0, 0.25, 0.5, 0.75, 1], "format": ".2f", "labelAngle": 270, "title": null, "tickSize": 4, "labelPadding": 2}},
            "y": {"field": "m", "type": "quantitative", "scale": {"domain": [0, 1.19], "nice": false}, "axis": {"values": [0, 0.5, 1], "labelExpr": "datum.value == 0.5 ? '.5' : format(datum.value, '.1f')", "title": null, "tickSize": 4, "labelPadding": 5}}
          },
          "layer": [
            {"data": {"name": "r5"}, "mark": {"type": "line", "color": "black", "strokeWidth": 1.8},
             "encoding": {"detail": {"field": "s"}, "strokeDash": {"field": "p", "type": "nominal", "scale": {"domain": ["AD105 non adapté", "AD135 adapté 2_D", "AD116 adapté 3_D"], "range": [[1, 0], [4, 2], [8, 3, 2, 3]]},
               "legend": {"orient": "none", "legendX": 190, "legendY": 153, "title": null, "labelFontSize": 22, "labelFont": "DejaVu Sans", "labelColor": "black", "labelLimit": 400, "symbolType": "stroke", "symbolStrokeWidth": 2, "symbolSize": 900, "symbolStrokeColor": "black", "rowPadding": 11, "labelOffset": 13}}}},
            {"data": {"values": [{"xc": 0.679, "m": 1.145, "label": "B"}]}, "mark": {"type": "text", "fontSize": 40, "baseline": "middle"}, "encoding": {"text": {"field": "label"}}},
            {"data": {"values": [{"xc": 0.737, "m": 0.926, "label": "Rangée ⑤"}]}, "mark": {"type": "text", "align": "left", "baseline": "middle", "fontSize": 14, "fontWeight": "bold"}, "encoding": {"text": {"field": "label"}}},
            {"data": {"values": [{"xc": 1.013, "m": 0.132, "label": "x/c"}]}, "mark": {"type": "text", "baseline": "middle", "fontSize": 12, "fontWeight": "bold"}, "encoding": {"text": {"field": "label"}}}
          ]
        }
      ],
      "spacing": 187,
      "bounds": "flush",
      "resolve": {"scale": {"strokeDash": "independent", "shape": "independent", "size": "independent", "strokeWidth": "independent"}, "legend": {"strokeDash": "independent", "shape": "independent", "size": "independent", "strokeWidth": "independent"}}
    }
  ],
  "spacing": 9,
  "resolve": {"scale": {"strokeDash": "independent", "shape": "independent", "size": "independent", "strokeWidth": "independent"}, "legend": {"strokeDash": "independent", "shape": "independent", "size": "independent", "strokeWidth": "independent"}},
  "config": {
    "view": {"stroke": null},
    "axis": {"domainColor": "black", "domainWidth": 2, "tickColor": "black", "tickWidth": 1.5, "labelColor": "black", "labelFont": "DejaVu Sans", "labelFontWeight": "bold", "labelFontSize": 10, "grid": false, "titleColor": "black"},
    "text": {"font": "DejaVu Sans", "color": "black"}
  }
}
